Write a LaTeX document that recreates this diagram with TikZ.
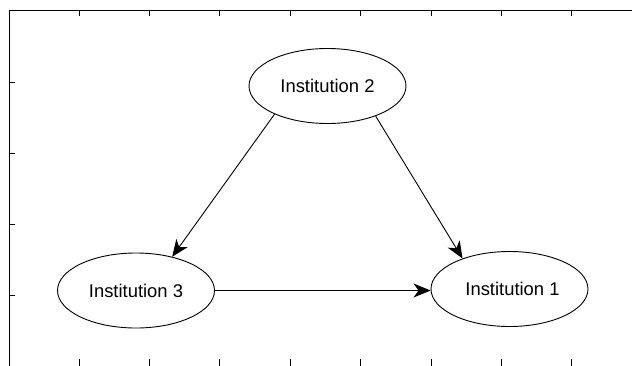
\documentclass[tikz,border=0pt]{standalone}
\usepackage{fontspec}
\setmainfont{Liberation Sans}
\usetikzlibrary{shapes.geometric,arrows.meta}
\begin{document}
\begin{tikzpicture}[x=1pt,y=-1pt,
  inst/.style={draw,ellipse,line width=0.9pt,minimum width=157pt,minimum height=75pt,inner sep=0pt,font=\fontsize{18.4}{20}\selectfont},
  link/.style={draw,line width=0.9pt,-{Stealth[length=17pt,width=14pt,inset=5pt]}},
  axisline/.style={line width=0.9pt}]
\useasboundingbox (0,0) rectangle (632,365);
% axis frame
\draw[axisline] (9,366) -- (9,10) -- (633,10);
\foreach \k in {0,...,7}{
  \draw[axisline] ({79+70.4*\k},10) -- ({79+70.4*\k},16);
  \draw[axisline] ({79+70.4*\k},366) -- ({79+70.4*\k},359);
}
\foreach \k in {0,...,3}{
  \draw[axisline] (9,{82+71.3*\k}) -- (15,{82+71.3*\k});
}
% nodes
\node[inst] (n2) at (327.5,86) {Institution 2};
\node[inst] (n3) at (136,290.5) {Institution 3};
\node[inst] (n1) at (509.5,289) {\hspace{6pt}Institution 1};
% connectors
\draw[link] (n2.208) -- (n3.43);
\draw[link] (n2.-32) -- (n1.147);
\draw[link] (n3.east) -- (n3.east -| n1.west);
\end{tikzpicture}
\end{document}
